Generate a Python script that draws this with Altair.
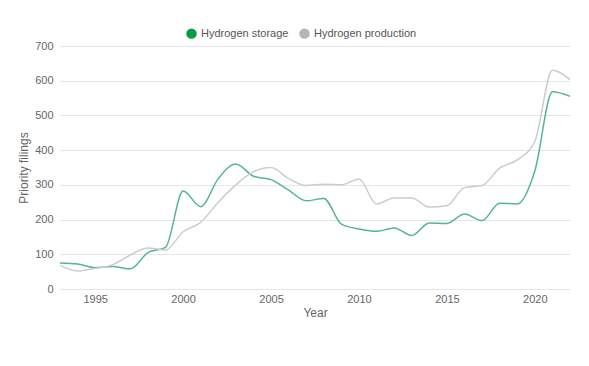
import altair as alt
import pandas as pd

years = list(range(1993, 2023))
storage = [75, 72, 62, 65, 58, 105, 120, 282, 237, 318, 360, 325, 315, 285, 254,
           261, 187, 173, 166, 176, 154, 190, 189, 216, 197, 247, 245, 340, 568, 555]
production = [68, 52, 60, 70, 98, 118, 112, 165, 192, 250, 300, 338, 350, 318, 298,
              302, 300, 317, 245, 262, 262, 236, 240, 292, 298, 348, 372, 425, 630, 603]
series_names = ["Hydrogen storage", "Hydrogen production"]
line_colors = ["#55b690", "#cccccc"]
legend_colors = ["#0a9a48", "#b5b5b5"]

rows = []
for y, s, p in zip(years, storage, production):
    rows.append({"Year": y, "series": series_names[0], "value": s})
    rows.append({"Year": y, "series": series_names[1], "value": p})
df = pd.DataFrame(rows)

x = alt.X("Year:Q", scale=alt.Scale(domain=[1993, 2022], nice=False, zero=False),
          axis=alt.Axis(values=[1995, 2000, 2005, 2010, 2015, 2020], format="d",
                        grid=False, domain=True, domainColor="#e6e6e6", ticks=False,
                        labelPadding=4, title="Year", titlePadding=3))
y = alt.Y("value:Q", scale=alt.Scale(domain=[0, 700], nice=False),
          axis=alt.Axis(values=[0, 100, 200, 300, 400, 500, 600, 700], grid=True,
                        gridColor="#e6e6e6", domain=False, ticks=False, labelOverlap=False,
                        labelPadding=7, title="Priority filings", titlePadding=4))

lines = alt.Chart(df).mark_line(interpolate="monotone", strokeWidth=1.5).encode(
    x=x, y=y,
    stroke=alt.Stroke("series:N", sort=series_names,
                      scale=alt.Scale(domain=series_names, range=line_colors), legend=None),
    order="Year:Q",
)

legend_layer = alt.Chart(df).transform_calculate(name="datum.series").mark_circle(opacity=0).encode(
    x=x, y=y,
    fill=alt.Fill("name:N", sort=series_names,
                  scale=alt.Scale(domain=series_names, range=legend_colors),
                  legend=alt.Legend(title=None, orient="none", direction="horizontal",
                                    legendX=126, legendY=-18, symbolType="circle",
                                    symbolSize=110, symbolOpacity=1, labelFontSize=11,
                                    labelColor="#555555", columnPadding=10,
                                    symbolStrokeWidth=0)),
)

chart = alt.layer(lines, legend_layer).resolve_scale(fill="independent").properties(
    width=510, height=243,
    padding={"left": 52, "top": 38, "right": 10, "bottom": 60},
    autosize="none",
).configure_view(stroke=None).configure_axis(
    labelFont="Liberation Sans", labelFontSize=11, labelColor="#666666",
    titleFont="Liberation Sans", titleFontSize=12, titleColor="#666666", titleFontWeight="normal",
).configure_legend(labelFont="Liberation Sans")

chart.save("out.html", embed_options={"renderer": "svg", "actions": False})
